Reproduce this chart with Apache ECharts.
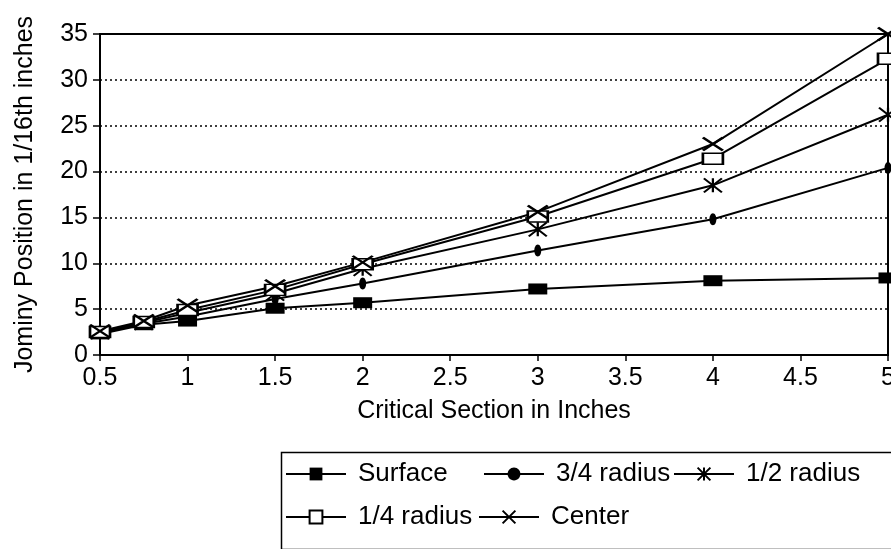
<!DOCTYPE html>
<html>
<head>
<meta charset="utf-8">
<script src="https://cdn.jsdelivr.net/npm/echarts@6/dist/echarts.min.js"></script>
<style>html,body{margin:0;padding:0;background:#fff}#c{width:891px;height:549px}</style>
</head>
<body>
<div id="c"></div>
<script>
const sections = [0.5, 0.75, 1, 1.5, 2, 3, 4, 5];
const surface = [2.3, 3.3, 3.7, 5.1, 5.7, 7.2, 8.1, 8.4];
const radius34 = [2.4, 3.4, 4.2, 6.1, 7.8, 11.4, 14.8, 20.4];
const radius12 = [2.5, 3.5, 4.6, 6.7, 9.4, 13.7, 18.5, 26.2];
const radius14 = [2.5, 3.6, 4.9, 7.1, 9.9, 15.1, 21.4, 32.3];
const center = [2.6, 3.7, 5.4, 7.5, 10.1, 15.6, 23.0, 35];
const seriesNames = ['Surface', '3/4 radius', '1/2 radius', '1/4 radius', 'Center'];
const yTicks = [0, 5, 10, 15, 20, 25, 30, 35];
const xTicks = [0.5, 1, 1.5, 2, 2.5, 3, 3.5, 4, 4.5, 5];

const FONT = 'Liberation Sans, Arial, sans-serif';
const pairs = arr => sections.map((x, i) => [x, arr[i]]);

const symX = 'path://M0,0L10,10M10,0L0,10';
const symAst = 'path://M0,0L10,10M10,0L0,10M5,0L5,10';
const symTick = 'path://M5,0C8,0 10,5 10,10C10,15 8,20 5,20C2,20 0,15 0,10C0,5 2,0 5,0Z';

function mkSeries(name, data, symbol, size, fill, borderW) {
  return {
    name: name, type: 'line', data: pairs(data),
    symbol: symbol, symbolSize: size, showSymbol: true,
    lineStyle: {color: '#000', width: 2},
    itemStyle: {color: fill, borderColor: '#000', borderWidth: borderW},
    emphasis: {disabled: true},
    clip: false, z: 3
  };
}

const chart = echarts.init(document.getElementById('c'), null, {renderer: 'canvas'});
const legendBase = {
  orient: 'horizontal', itemWidth: 60, itemHeight: 16, itemGap: 0, padding: 0,
  textStyle: {fontFamily: FONT, fontSize: 26, color: '#000', padding: [0, 0, 0, 7]},
  inactiveColor: '#000', selectedMode: false
};
chart.setOption({
  animation: false,
  backgroundColor: '#fff',
  grid: {left: 100, right: 3, top: 34, bottom: 194, show: true, borderColor: '#000', borderWidth: 2,
    backgroundColor: 'transparent', outerBoundsMode: 'none', containLabel: false},
  xAxis: {
    type: 'value', min: 0.5, max: 5, interval: 0.5,
    name: 'Critical Section in Inches', nameLocation: 'middle', nameGap: 44,
    nameTextStyle: {fontFamily: FONT, fontSize: 25, color: '#000'},
    axisLine: {show: true, lineStyle: {color: '#000', width: 2}},
    axisTick: {show: true, length: 6, lineStyle: {color: '#000', width: 1.5}},
    axisLabel: {fontFamily: FONT, fontSize: 25, color: '#000', margin: 11,
      hideOverlap: false, formatter: v => String(v)},
    splitLine: {show: false}
  },
  yAxis: {
    type: 'value', min: 0, max: 35, interval: 5,
    name: 'Jominy Position in 1/16th inches', nameLocation: 'middle', nameGap: 62,
    nameTextStyle: {fontFamily: FONT, fontSize: 25, color: '#000'},
    axisLine: {show: true, lineStyle: {color: '#000', width: 2}},
    axisTick: {show: true, length: 7, lineStyle: {color: '#000', width: 1.5}},
    axisLabel: {fontFamily: FONT, fontSize: 25, color: '#000', margin: 12},
    splitLine: {show: true, lineStyle: {color: '#000', width: 1.5, type: [2, 3]}}
  },
  legend: [
    Object.assign({}, legendBase, {left: 285, top: 461, data: ['Surface']}),
    Object.assign({}, legendBase, {left: 483, top: 461, data: ['3/4 radius']}),
    Object.assign({}, legendBase, {left: 673, top: 461, data: ['1/2 radius']}),
    Object.assign({}, legendBase, {left: 285, top: 504, data: ['1/4 radius']}),
    Object.assign({}, legendBase, {left: 478, top: 504, data: ['Center']})
  ],
  graphic: [{
    type: 'rect', left: 279, top: 450, silent: true,
    shape: {width: 700, height: 97},
    style: {fill: 'none', stroke: '#000', lineWidth: 1.5}
  }],
  series: [
    mkSeries(seriesNames[0], surface, 'rect', [19, 11], '#000', 0),
    mkSeries(seriesNames[1], radius34, symTick, [7, 12], '#000', 0),
    mkSeries(seriesNames[2], radius12, symAst, [18, 14], 'none', 2),
    mkSeries(seriesNames[3], radius14, 'rect', [20, 11], '#fff', 2),
    mkSeries(seriesNames[4], center, symX, [20, 13], 'none', 2.5)
  ]
});
</script>
</body>
</html>
